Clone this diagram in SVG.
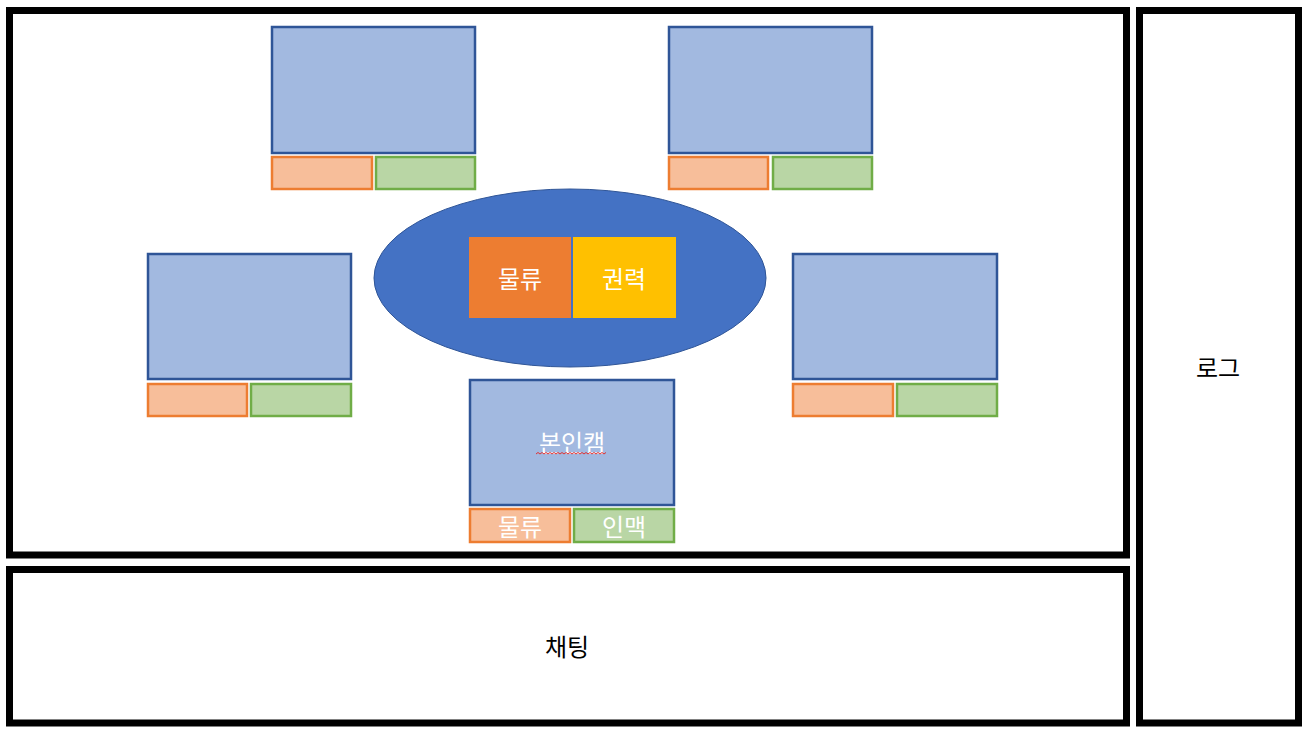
<svg xmlns="http://www.w3.org/2000/svg" width="1306" height="733" viewBox="0 0 1306 733">
<style>
.frame{fill:#fff;stroke:#000;stroke-width:7}
.screen{fill:#A2B9E0;stroke:#2F5597;stroke-width:2.5}
.org{fill:#F7BE9A;stroke:#ED7D31;stroke-width:2.5}
.grn{fill:#B9D6A5;stroke:#70AD47;stroke-width:2.5}
.t{font-family:"Noto Sans CJK KR","Noto Sans",sans-serif;font-size:24px;text-anchor:middle;dominant-baseline:central}
.w{fill:#fff}
.k{fill:#000}
</style>
<rect width="1306" height="733" fill="#fff"/>
<g id="board"><rect class="frame" x="9.5" y="10.5" width="1117" height="544.5"/></g>
<g id="chat"><rect class="frame" x="9.5" y="569.5" width="1117" height="153.5"/><text class="t k" x="567" y="645">채팅</text></g>
<g id="log"><rect class="frame" x="1139.5" y="10.5" width="159" height="712.5"/><text class="t k" x="1218" y="366">로그</text></g>
<g id="player-top-left">
<rect class="screen" x="272" y="27" width="203" height="126"/>
<rect class="org" x="272" y="157" width="100" height="32"/>
<rect class="grn" x="376" y="157" width="99" height="32"/>
</g>
<g id="player-top-right">
<rect class="screen" x="669" y="27" width="203" height="126"/>
<rect class="org" x="669" y="157" width="99" height="32"/>
<rect class="grn" x="773" y="157" width="99" height="32"/>
</g>
<g id="player-left">
<rect class="screen" x="148" y="254" width="203" height="125"/>
<rect class="org" x="148" y="384" width="99" height="32"/>
<rect class="grn" x="251" y="384" width="100" height="32"/>
</g>
<g id="player-right">
<rect class="screen" x="793" y="254" width="204" height="125"/>
<rect class="org" x="793" y="384" width="100" height="32"/>
<rect class="grn" x="897" y="384" width="100" height="32"/>
</g>
<g id="table">
<ellipse cx="570" cy="278" rx="196" ry="89" fill="#4472C4" stroke="#2F5597" stroke-width="1"/>
<rect x="469" y="237" width="102" height="81" fill="#ED7D31"/>
<rect x="573" y="237" width="103" height="81" fill="#FFC000"/>
<text class="t w" x="520" y="277">물류</text>
<text class="t w" x="624" y="277">권력</text>
</g>
<g id="player-self">
<rect class="screen" x="470" y="380" width="204" height="125"/>
<text class="t w" x="572" y="441">본인캠</text>
<path d="M536 454 l2 -1.5 l2 1.5 l2 -1.5 l2 1.5 l2 -1.5 l2 1.5 l2 -1.5 l2 1.5 l2 -1.5 l2 1.5 l2 -1.5 l2 1.5 l2 -1.5 l2 1.5 l2 -1.5 l2 1.5 l2 -1.5 l2 1.5 l2 -1.5 l2 1.5 l2 -1.5 l2 1.5 l2 -1.5 l2 1.5 l2 -1.5 l2 1.5 l2 -1.5 l2 1.5 l2 -1.5 l2 1.5 l2 -1.5 l2 1.5 l2 -1.5 l2 1.5 l2 -1.5" fill="none" stroke="#E03030" stroke-width="1"/>
<rect class="org" x="470" y="509" width="100" height="33"/>
<rect class="grn" x="574" y="509" width="100" height="33"/>
<text class="t w" x="520" y="525">물류</text>
<text class="t w" x="624" y="525">인맥</text>
</g>
<g id="connectors"></g>
</svg>
